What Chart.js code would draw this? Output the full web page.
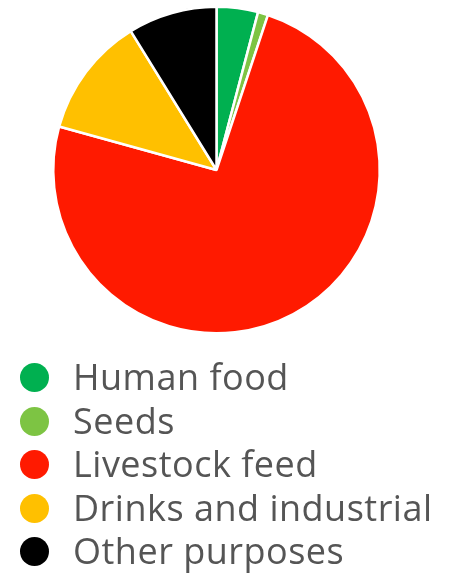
<!DOCTYPE html>
<html>
<head>
<meta charset="utf-8">
<script src="https://cdn.jsdelivr.net/npm/chart.js@4/dist/chart.umd.min.js"></script>
<style>
  html, body { margin: 0; padding: 0; background: #fff; }
  #wrap { position: relative; width: 451px; height: 578px; overflow: hidden; }
  #c { position: absolute; left: 0; top: 0; }
  #legend { position: absolute; left: 0; top: 355px; width: 451px; margin: 0; padding: 0; list-style: none; }
  #legend li { position: relative; height: 43.5px; line-height: 43.5px; padding-left: 73px;
    font-family: "Open Sans", Lato, sans-serif; font-size: 36px; letter-spacing: 0.5px; color: #555555; white-space: nowrap; }
  #legend li span { position: absolute; left: 20px; top: 8px; width: 29px; height: 29px; border-radius: 50%; }
</style>
</head>
<body>
<div id="wrap">
  <canvas id="c" width="451" height="578"></canvas>
  <ul id="legend"></ul>
</div>
<script>
const categories = ["Human food", "Seeds", "Livestock feed", "Drinks and industrial", "Other purposes"];
const values = [4.1, 1.0, 74.2, 11.9, 8.8];
const colors = ["#00B050", "#7DC443", "#FF1A00", "#FFC000", "#000000"];

new Chart(document.getElementById('c'), {
  type: 'pie',
  data: {
    labels: categories,
    datasets: [{ data: values, backgroundColor: colors, borderColor: '#ffffff', borderWidth: 2.5 }]
  },
  options: {
    responsive: false,
    animation: false,
    layout: { padding: { top: 5, bottom: 243, left: 52, right: 70 } },
    plugins: { legend: { display: false }, tooltip: { enabled: false } }
  }
});

const ul = document.getElementById('legend');
categories.forEach((c, i) => {
  const li = document.createElement('li');
  const s = document.createElement('span');
  s.style.background = colors[i];
  li.appendChild(s);
  li.appendChild(document.createTextNode(c));
  ul.appendChild(li);
});
</script>
</body>
</html>
